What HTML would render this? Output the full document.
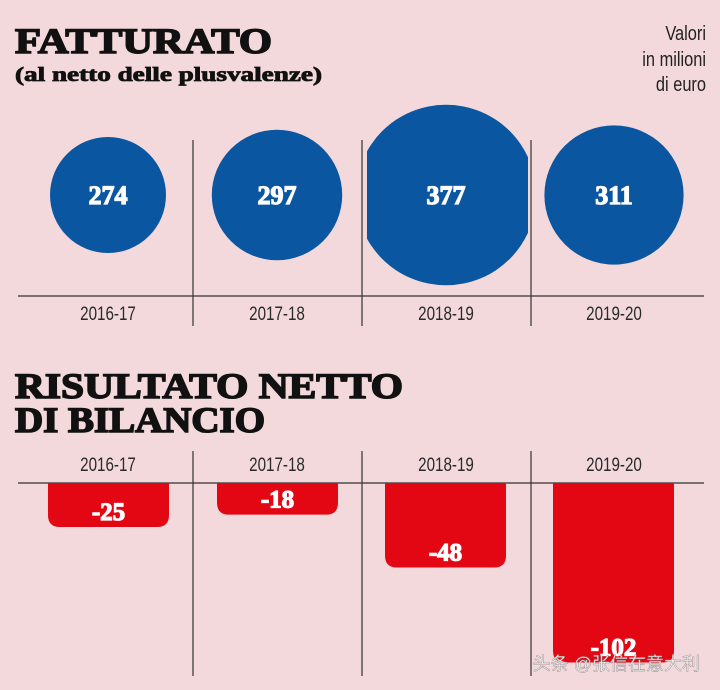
<!DOCTYPE html>
<html><head><meta charset="utf-8"><style>
html,body{margin:0;padding:0;background:#f3d9dc;}
svg{display:block}
</style></head><body>
<svg id="chart" width="720" height="690" viewBox="0 0 720 690" xmlns="http://www.w3.org/2000/svg">
<rect width="720" height="690" fill="#f3d9dc"/>
<text x="15" y="53" font-family="Liberation Serif, serif" font-weight="bold" font-size="36" textLength="257" lengthAdjust="spacingAndGlyphs" stroke="#111" stroke-width="1.6" fill="#111">FATTURATO</text>
<text x="15" y="81" font-family="Liberation Serif, serif" font-weight="bold" font-size="20" textLength="307" lengthAdjust="spacingAndGlyphs" stroke="#111" stroke-width="0.8" fill="#111">(al netto delle plusvalenze)</text>
<g font-family="Liberation Sans, sans-serif" font-size="20" fill="#222" text-anchor="end">
<text x="706" y="40" transform="translate(706 0) scale(0.82 1) translate(-706 0)">Valori</text>
<text x="706" y="66" transform="translate(706 0) scale(0.82 1) translate(-706 0)">in milioni</text>
<text x="706" y="91" transform="translate(706 0) scale(0.82 1) translate(-706 0)">di euro</text>
</g>
<text x="15" y="398" font-family="Liberation Serif, serif" font-weight="bold" font-size="36" textLength="388" lengthAdjust="spacingAndGlyphs" stroke="#111" stroke-width="1.6" fill="#111">RISULTATO NETTO</text>
<text x="15" y="432" font-family="Liberation Serif, serif" font-weight="bold" font-size="36" textLength="250" lengthAdjust="spacingAndGlyphs" stroke="#111" stroke-width="1.6" fill="#111">DI BILANCIO</text>
<g id="topGroup"></g>
<g id="bottomGroup"></g>
<text x="700" y="670" text-anchor="end" font-family="Liberation Sans, 'Noto Sans CJK SC', sans-serif" font-size="18" fill="#f4eeee" stroke="#888" stroke-width="0.4">头条 @张信在意大利</text>
</svg>
<script>
const categories = ["2016-17","2017-18","2018-19","2019-20"];
const revenue = [274, 297, 377, 311];
const netResult = [-25, -18, -48, -102];
const revenueLabels = ["274","297","377","311"];
const netLabels = ["-25","-18","-48","-102"];

const NS = "http://www.w3.org/2000/svg";
function mk(tag, attrs, parent){const e=document.createElementNS(NS,tag);for(const k in attrs)e.setAttribute(k,attrs[k]);parent.appendChild(e);return e;}
const colLeft = [18,193,362,531], colRight=[193,362,531,704];
function rScale(v){return 0.3135*v - 27.9;}
function yNet(v){return 483 + (-v)*1.76;}

const topG = document.getElementById('topGroup');
const botG = document.getElementById('bottomGroup');
const defs = mk('defs',{},topG);
categories.forEach((c,i)=>{
  const cp = mk('clipPath',{id:'cp'+i},defs);
  mk('rect',{x:colLeft[i]+5,y:90,width:colRight[i]-colLeft[i]-8,height:205},cp);
});
[193,362,531].forEach((x)=>{
  const l=mk('line',{x1:x,y1:140,x2:x,y2:326,stroke:'#333','stroke-width':1.2},topG);
  
  
  const l2=mk('line',{x1:x,y1:451,x2:x,y2:676,stroke:'#333','stroke-width':1.2},botG);
  
  
});
const b1=mk('line',{x1:18,y1:296,x2:704,y2:296,stroke:'#333','stroke-width':1.3},topG);


const b2=mk('line',{x1:18,y1:483,x2:704,y2:483,stroke:'#333','stroke-width':1.3},botG);



categories.forEach((c,i)=>{
  const cx=[108,277,446,614][i], r=rScale(revenue[i]);
  const circ=mk('circle',{cx:cx,cy:195,r:r,fill:'#0b56a1','clip-path':'url(#cp'+i+')'},topG);
  
  
  const t=mk('text',{x:cx,y:204,'text-anchor':'middle','font-family':'Liberation Serif, serif','font-weight':'bold','font-size':26,fill:'#fff',stroke:'#fff','stroke-width':1.2},topG);
  t.textContent=revenueLabels[i];
  
  
  const lt=mk('text',{x:cx,y:320,'text-anchor':'middle','font-family':'Liberation Sans, sans-serif','font-size':19,fill:'#2a2a2a',transform:`translate(${cx} 0) scale(0.8 1) translate(${-cx} 0)`},topG);
  lt.textContent=c;
  
  
  const bx=[48,217,385,553][i], w=121, y0=483, y1=yNet(netResult[i]), rr=12;
  const d=`M${bx},${y0} H${bx+w} V${y1-rr} Q${bx+w},${y1} ${bx+w-rr},${y1} H${bx+rr} Q${bx},${y1} ${bx},${y1-rr} Z`;
  const bar=mk('path',{d:d,fill:'#e30613'},botG);
  
  
  const vt=mk('text',{x:bx+w/2,y:y1-7,'text-anchor':'middle','font-family':'Liberation Serif, serif','font-weight':'bold','font-size':25,fill:'#fff',stroke:'#fff','stroke-width':1.2},botG);
  vt.textContent=netLabels[i];
  
  
  const bl=mk('text',{x:cx,y:471,'text-anchor':'middle','font-family':'Liberation Sans, sans-serif','font-size':19,fill:'#2a2a2a',transform:`translate(${cx} 0) scale(0.8 1) translate(${-cx} 0)`},botG);
  bl.textContent=c;
  
  
});
</script>
</body></html>
